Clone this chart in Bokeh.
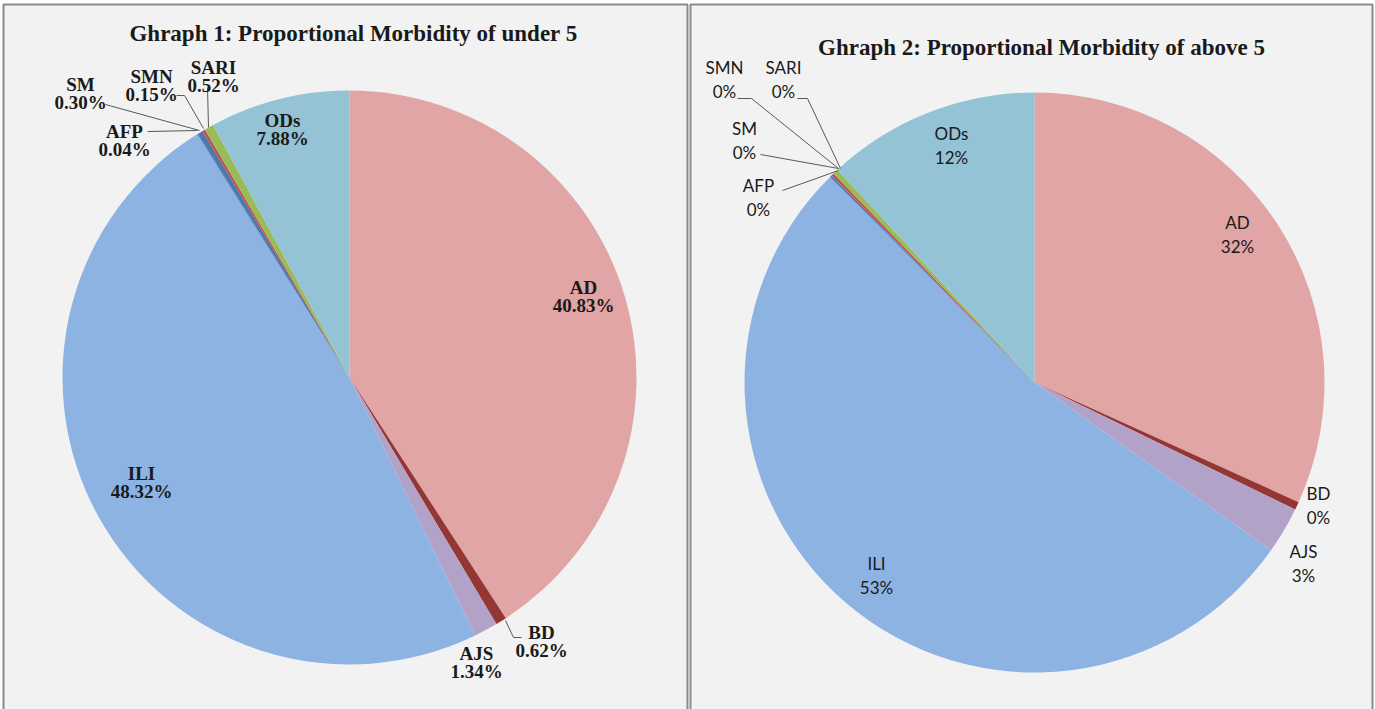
import math
from bokeh.plotting import figure
from bokeh.models import Range1d, ColumnDataSource
from bokeh.core.properties import value
from bokeh.embed import file_html
from bokeh.resources import INLINE

# ---------------- data ----------------
categories = ["AD", "BD", "AJS", "ILI", "AFP", "SM", "SMN", "SARI", "ODs"]
under5 = [40.83, 0.62, 1.34, 48.32, 0.04, 0.30, 0.15, 0.52, 7.88]
above5 = [31.8, 0.45, 2.6, 52.8, 0.05, 0.05, 0.15, 0.30, 11.9]
title1 = "Ghraph 1: Proportional Morbidity of under 5"
title2 = "Ghraph 2: Proportional Morbidity of above 5"

# ---------------- styles / layout ----------------
colors = ["#E0A5A4", "#943634", "#B3A2C7", "#8DB3E2", "#2C5A94",
          "#4F77AA", "#C0504D", "#9BBB59", "#93C3D5"]
BG = "#F2F2F2"
BORDER = "#8A8A8A"
W, H = 1375, 709

# label name-line centres in page coordinates
lab1 = [(583, 287), (541, 632), (476, 653), (141, 473), (124, 131),
        (80, 84), (151, 76), (213, 67), (282, 120)]
lab2 = [(1237, 222), (1318, 493), (1303, 551), (876, 563), (758, 185),
        (744, 128), (724, 67), (783, 67), (951, 133)]
lead1 = [[(505, 620), (513, 637), (521, 637)],
         [(147, 131), (197, 130)],
         [(105, 104), (199, 130)],
         [(176, 95), (184, 95), (203, 128)],
         [(207, 87), (208, 127)]]
lead2 = [[(782, 190), (838, 170)],
         [(760, 154), (838, 168)],
         [(737, 98), (751, 98), (838, 168)],
         [(797, 98), (807, 98), (840, 168)]]
panels = [(3, 687), (690, 1372)]

p = figure(width=W, height=H, x_range=Range1d(0, W), y_range=Range1d(0, H),
           x_axis_type=None, y_axis_type=None, toolbar_location=None,
           output_backend="svg", min_border=0, background_fill_color="#FFFFFF",
           border_fill_color="#FFFFFF", outline_line_color=None)
p.grid.visible = False

fy = lambda y: H - y

for x0, x1 in panels:
    p.quad(left=x0, right=x1, top=fy(4), bottom=fy(712), fill_color=BG, line_color=None)
    p.line([x0, x0, x1, x1], [fy(712), fy(4), fy(4), fy(712)],
           line_color=BORDER, line_width=2)


def pie(vals, labels_fmt, title, center, radius, labpos, pct_dy, leaders,
        font, style, size, title_pos):
    total = sum(vals)
    starts, ends, c = [], [], 0.0
    for v in vals:
        starts.append(math.pi / 2 - 2 * math.pi * c / total)
        c += v
        ends.append(math.pi / 2 - 2 * math.pi * c / total)
    src = ColumnDataSource(dict(cat=categories, val=vals, start=starts, end=ends, color=colors))
    cx, cy = center
    p.wedge(x=cx, y=fy(cy), radius=radius, radius_units="screen",
            start_angle="start", end_angle="end", direction="clock",
            fill_color="color", line_color=None, source=src)
    for seg in leaders:
        p.line([a for a, b in seg], [fy(b) for a, b in seg],
               line_color="#595959", line_width=1)
    nx = [a for a, b in labpos]
    ny = [fy(b) for a, b in labpos]
    pct = [labels_fmt(v) for v in vals]
    lsrc = ColumnDataSource(dict(x=nx, y=ny, y2=[y - pct_dy for y in ny],
                                 name=categories, pct=pct))
    for col, ycol in (("name", "y"), ("pct", "y2")):
        p.text(x="x", y=ycol, text=col, source=lsrc, text_align="center",
               text_baseline="middle", text_font=value(font), text_font_style=style,
               text_font_size=size, text_color="#1A1A1A")
    tx, ty = title_pos
    p.text(x=[tx], y=[fy(ty)], text=[title], text_align="center",
           text_baseline="middle", text_font=value("Liberation Serif"),
           text_font_style="bold", text_font_size="23px", text_color="#1A1A1A")


pie(under5, lambda v: f"{v:.2f}%", title1, (349, 377), 287,
    lab1, 18, lead1, "Liberation Serif", "bold", "19px", (353, 33))
pie(above5, lambda v: f"{round(v)}%", title2, (1034, 382), 290,
    lab2, 24, lead2, "Lato", "normal", "17px", (1041, 47))

open("out.html", "w").write(file_html(p, INLINE))
